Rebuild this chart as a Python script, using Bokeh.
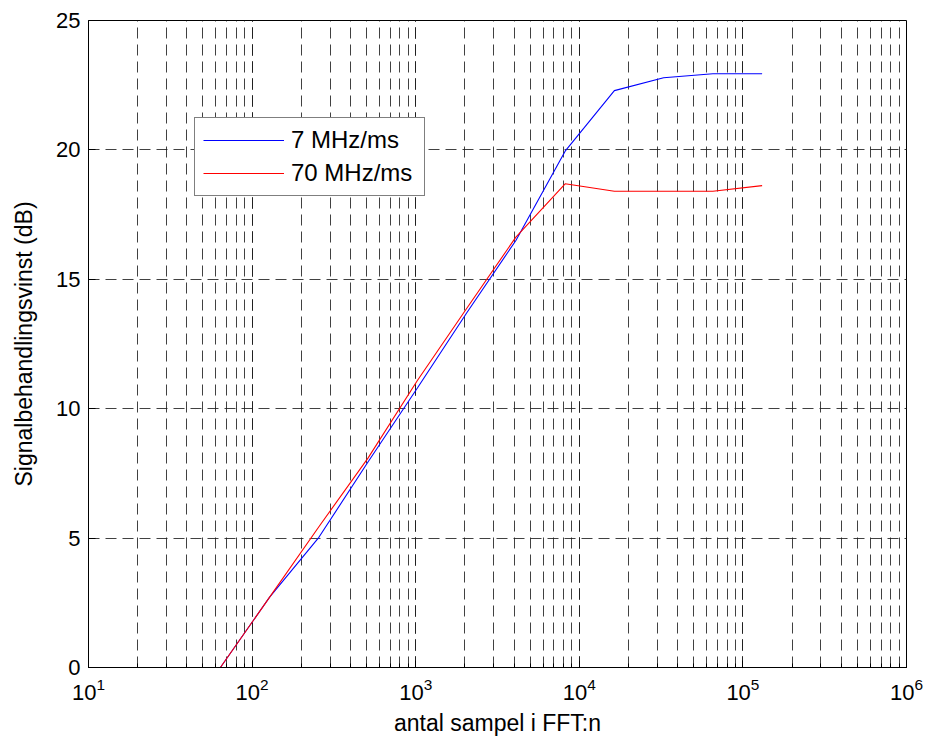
from bokeh.plotting import figure
from bokeh.models import Legend, LegendItem, FixedTicker
from bokeh.embed import file_html
from bokeh.resources import INLINE

n_samples = [64, 128, 256, 512, 1024, 2048, 4096, 8192, 16384, 32768, 65536, 131072]
gain_7 = [0.0, 2.72, 5.03, 7.95, 10.8, 13.7, 16.5, 19.95, 22.29, 22.79, 22.94, 22.94]
gain_70 = [0.0, 2.72, 5.44, 8.1, 11.09, 13.87, 16.63, 18.69, 18.40, 18.40, 18.40, 18.62]
y_ticks = [0, 5, 10, 15, 20, 25]
series_names = ["7 MHz/ms", "70 MHz/ms"]

FONT = "Liberation Sans"

p = figure(width=927, height=742, x_axis_type="log", x_range=(10, 1e6), y_range=(0, 25),
           output_backend="svg", toolbar_location=None,
           min_border_left=88, min_border_right=21, min_border_top=20, min_border_bottom=75)

r1 = p.line(n_samples, gain_7, line_color="#0000ff", line_width=1.1)
r2 = p.line(n_samples, gain_70, line_color="#ff0000", line_width=1.1)

p.outline_line_color = "black"
p.outline_line_width = 1
p.outline_line_alpha = 1

# grid
for g in (p.xgrid[0], p.ygrid[0]):
    g.grid_line_color = "#202020"
    g.grid_line_dash = "11 6"
    g.grid_line_alpha = 0.85
p.xgrid.minor_grid_line_color = "#202020"
p.xgrid.minor_grid_line_dash = "11 6"
p.xgrid.minor_grid_line_alpha = 0.85
p.yaxis.ticker = FixedTicker(ticks=y_ticks)

for ax in (p.xaxis[0], p.yaxis[0]):
    ax.major_tick_in = 7
    ax.major_tick_out = 0
    ax.minor_tick_in = 4
    ax.minor_tick_out = 0
    ax.axis_line_color = "black"
    ax.major_label_text_font = FONT
    ax.major_label_text_font_size = "22px"
    ax.major_label_text_color = "black"
    ax.axis_label_text_font = FONT
    ax.axis_label_text_font_size = "23px"
    ax.axis_label_text_font_style = "normal"
    ax.axis_label_text_color = "black"

p.yaxis.minor_tick_line_color = None
p.xaxis.axis_label = "antal sampel i FFT:n"
p.yaxis.axis_label = "Signalbehandlingsvinst (dB)"
p.xaxis.major_label_standoff = 10
p.yaxis.major_label_standoff = 8
p.xaxis.axis_label_standoff = 7
p.yaxis.axis_label_standoff = 16

legend = Legend(items=[LegendItem(label=series_names[0], renderers=[r1]),
                       LegendItem(label=series_names[1], renderers=[r2])],
                location=(106, 471))
legend.label_text_font = FONT
legend.label_text_font_size = "24px"
legend.label_text_color = "black"
legend.glyph_width = 81
legend.glyph_height = 22
legend.label_standoff = 7
legend.label_width = 125
legend.spacing = 5
legend.padding = 8
legend.margin = 0
legend.border_line_color = "black"
legend.border_line_width = 1
legend.background_fill_color = "white"
legend.background_fill_alpha = 1
p.add_layout(legend)

open("out.html", "w").write(file_html(p, INLINE))
